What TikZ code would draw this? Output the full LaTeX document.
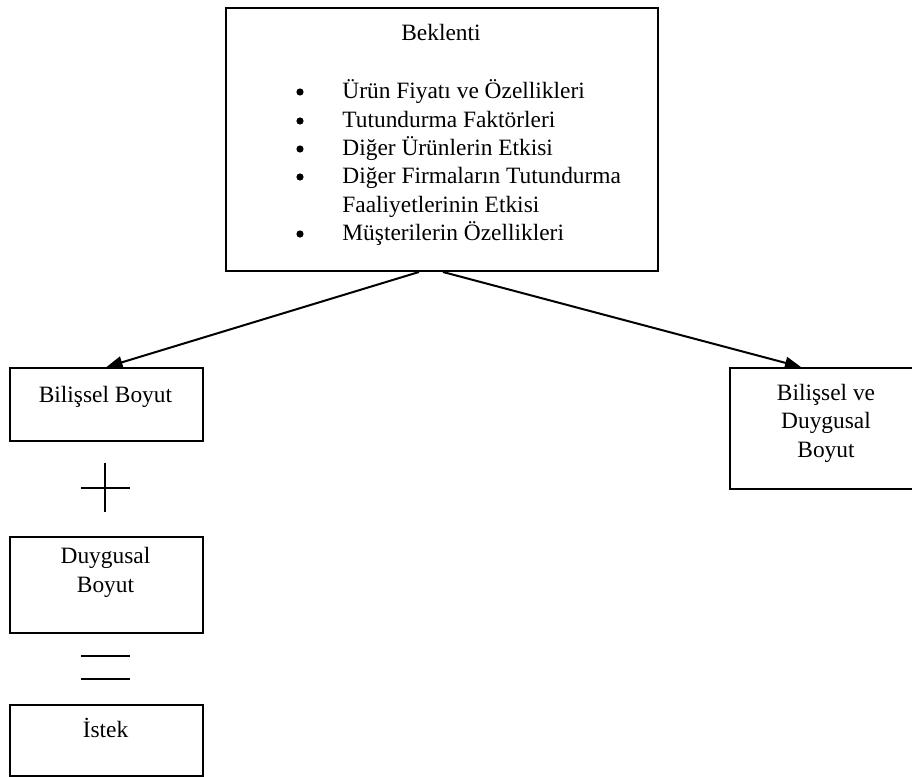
\documentclass[tikz,border=0pt]{standalone}
\usepackage{fontspec}
\setmainfont{Liberation Serif}
\usetikzlibrary{arrows.meta}
\begin{document}
\begin{tikzpicture}[
  x=0.5pt, y=-0.5pt,
  font=\fontsize{11.7}{14.25}\selectfont,
  frame/.style={draw, line width=1pt, rectangle, inner sep=0pt, anchor=north west},
  txt/.style={inner sep=0pt, anchor=base},
  item/.style={inner sep=0pt, anchor=base west},
  arr/.style={line width=1pt, -{Triangle[length=8pt,width=6pt]}},
  sign/.style={line width=0.9pt}
]
\useasboundingbox (0,0) rectangle (912,777);

% main box with the list of factors
\node[frame, minimum width=216pt, minimum height=131.5pt] (beklenti) at (225,7) {};
\node[txt] (baslik) at (441,40) {Beklenti};
\foreach \yy/\t [count=\i] in {98/{Ürün Fiyatı ve Özellikleri},
                               127/{Tutundurma Faktörleri},
                               155/{Diğer Ürünlerin Etkisi},
                               183/{Diğer Firmaların Tutundurma},
                               212/{Faaliyetlerinin Etkisi},
                               240/{Müşterilerin Özellikleri}}
  \node[item] (m\i) at (342,\yy) {\t};
\foreach \yy in {92,121,149,177,234}
  \fill (300,\yy) circle (1.8pt);

% left column
\node[frame, minimum width=96.5pt, minimum height=36.5pt] (bilissel) at (9,367) {};
\node[txt] (bilisselT) at (105.5,402) {Bilişsel Boyut};

\node[frame, minimum width=96.5pt, minimum height=48pt] (duygusal) at (9,536) {};
\node[txt] (duygusalA) at (105.5,563) {Duygusal};
\node[txt] (duygusalB) at (105.5,592) {Boyut};

\node[frame, minimum width=96.5pt, minimum height=35.5pt] (istek) at (9,704) {};
\node[txt] (istekT) at (105.5,737) {İstek};

% plus and equals signs between the boxes
\draw[sign] (81,488) -- (130,488);
\draw[sign] (105,463) -- (105,512);
\draw[sign] (81,656) -- (130,656);
\draw[sign] (81,679) -- (130,679);

% right box
\node[frame, minimum width=97pt, minimum height=60.5pt] (ikili) at (729,367) {};
\node[txt] (ikiliA) at (826,400) {Bilişsel ve};
\node[txt] (ikiliB) at (826,428.5) {Duygusal};
\node[txt] (ikiliC) at (826,457) {Boyut};

% arrows
\draw[arr] ([xshift=-11.5pt]beklenti.south) -- (bilissel.north);
\draw[arr] ([xshift=0.5pt]beklenti.south) -- ([xshift=-13pt]ikili.north);
\end{tikzpicture}
\end{document}
